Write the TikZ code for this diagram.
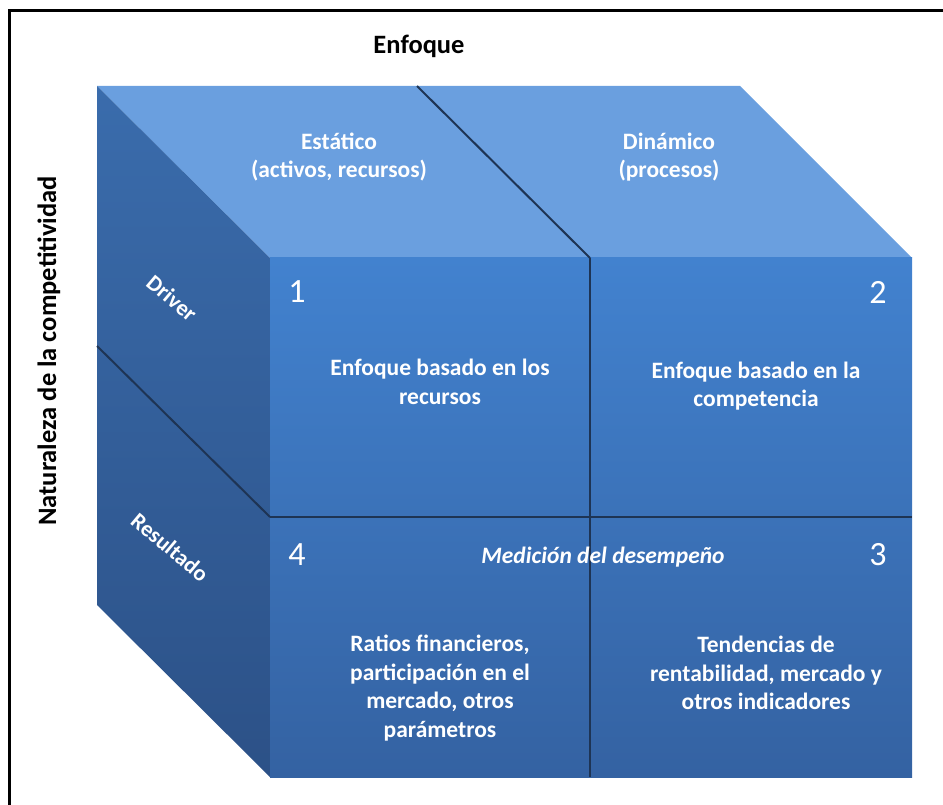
\documentclass[tikz,border=0pt]{standalone}
\usepackage{fontspec}
\setmainfont{Carlito}
\definecolor{topface}{RGB}{106,159,223}
\definecolor{fronttop}{RGB}{66,130,207}
\definecolor{frontbot}{RGB}{52,98,162}
\definecolor{sidetop}{RGB}{58,108,172}
\definecolor{sidebot}{RGB}{44,81,135}
\definecolor{edgeline}{RGB}{30,52,84}

\begin{document}
\begin{tikzpicture}[x=1pt,y=-1pt,
	divider/.style={draw=edgeline,line width=2},
	celltext/.style={text=white,font=\bfseries\fontsize{23.5}{28.5}\selectfont,align=center},
	cellnum/.style={text=white,font=\fontsize{34}{36}\selectfont},
	sidetext/.style={text=white,font=\bfseries\fontsize{22.5}{24}\selectfont,rotate=-40},
	axistitle/.style={font=\bfseries\fontsize{26.5}{30}\selectfont}]
			\useasboundingbox (0,0) rectangle (943,805);
			% corners of the cube
			\coordinate (bl) at (97,86);
			\coordinate (bm) at (417,86);
			\coordinate (br) at (740,86);
			\coordinate (ftl) at (270,258);
			\coordinate (ftm) at (590,258);
			\coordinate (ftr) at (912,258);
			\coordinate (fml) at (270,517);
			\coordinate (fmr) at (912,517);
			\coordinate (fbl) at (270,777);
			\coordinate (fbm) at (590,777);
			\coordinate (fbr) at (912,777);
			\coordinate (sm) at (97,346);
			\coordinate (sb) at (97,605);
			% frame
			\draw[line width=3] (9,805) -- (9,11) -- (943,11);
			% faces
			\fill[topface] (bl)--(br)--(ftr)--(ftl)--cycle;
			\shade[top color=sidetop,bottom color=sidebot] (bl)--(ftl)--(fbl)--(sb)--cycle;
			\shade[top color=fronttop,bottom color=frontbot] (ftl)--(ftr)--(fbr)--(fbl)--cycle;
			% dividers
			\draw[divider] (bm)--(ftm);
			\draw[divider] (ftm)--(fbm);
			\draw[divider] (sm)--(fml);
			\draw[divider] (fml)--(fmr);
			% titles
			\node[axistitle](enfoque) at (419,46) {Enfoque};
			\node[axistitle,rotate=90](naturaleza) at (49,351) {Naturaleza de la competitividad};
			% top face
			\node[celltext](estatico) at (339,157) {Estático\\(activos, recursos)};
			\node[celltext](dinamico) at (669,157) {Dinámico\\(procesos)};
			% side face
			\node[sidetext](driver) at (172,298) {Driver};
			\node[sidetext](resultado) at (170,547) {Resultado};
			% front face
			\node[cellnum](n1) at (297,292) {1};
			\node[cellnum](n2) at (878,292) {2};
			\node[cellnum](n3) at (878,555) {3};
			\node[cellnum](n4) at (297,555) {4};
			\node[celltext](recursos) at (440,382) {Enfoque basado en los\\recursos};
			\node[celltext](competencia) at (756,386) {Enfoque basado en la\\competencia};
			\node[celltext,font=\bfseries\itshape\fontsize{23.5}{28.5}\selectfont](medicion) at (603,557) {Medición del desempeño};
			\node[celltext](ratios) at (440,688) {Ratios financieros,\\participación en el\\mercado, otros\\parámetros};
			\node[celltext](tendencias) at (766,673) {Tendencias de\\rentabilidad, mercado y\\otros indicadores};
		\end{tikzpicture}
\end{document}
